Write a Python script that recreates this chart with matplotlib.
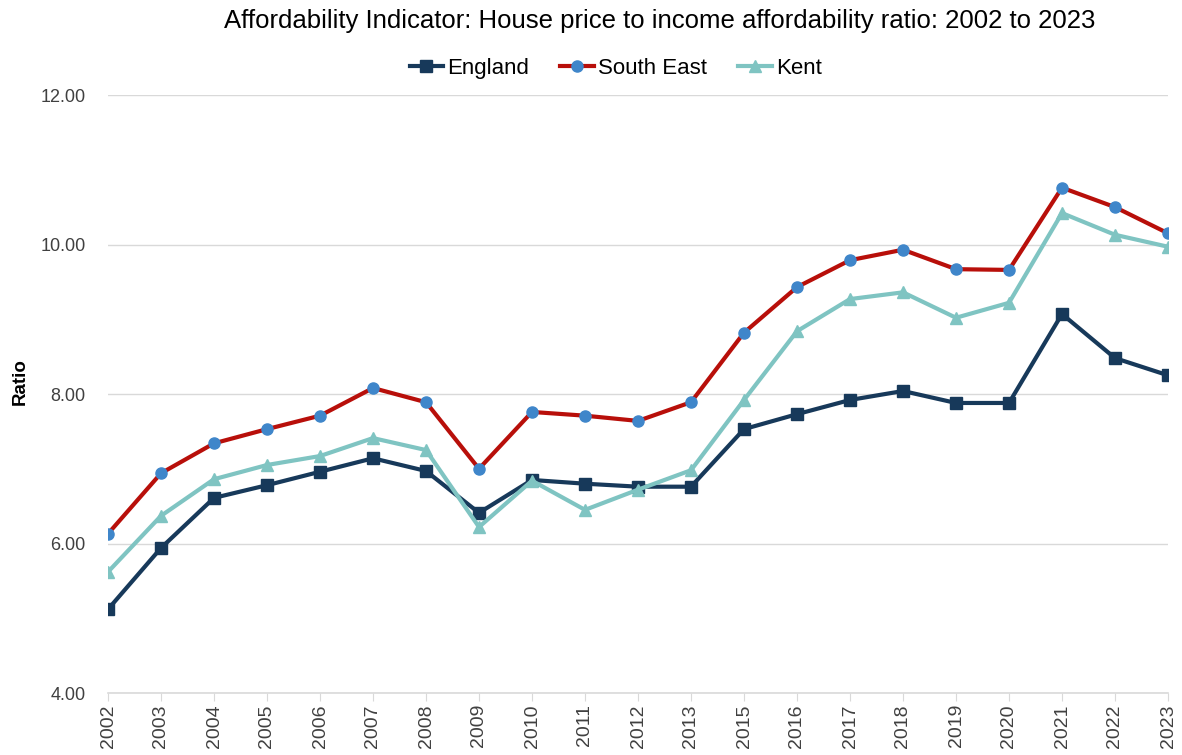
import numpy as np
import matplotlib.pyplot as plt

plt.rcParams['font.family'] = ['Liberation Sans', 'DejaVu Sans']

years = ["2002", "2003", "2004", "2005", "2006", "2007", "2008", "2009", "2010", "2011",
         "2012", "2013", "2015", "2016", "2017", "2018", "2019", "2020", "2021", "2022", "2023"]
england = [5.12, 5.94, 6.61, 6.78, 6.96, 7.14, 6.97, 6.41, 6.85, 6.80,
           6.76, 6.76, 7.53, 7.73, 7.92, 8.04, 7.88, 7.88, 9.07, 8.48, 8.25]
south_east = [6.13, 6.94, 7.34, 7.53, 7.71, 8.08, 7.89, 7.00, 7.76, 7.71,
              7.64, 7.89, 8.82, 9.43, 9.79, 9.93, 9.67, 9.66, 10.76, 10.50, 10.15]
kent = [5.62, 6.37, 6.86, 7.05, 7.17, 7.41, 7.25, 6.22, 6.84, 6.45,
        6.72, 6.98, 7.92, 8.84, 9.27, 9.36, 9.02, 9.22, 10.42, 10.13, 9.97]

fig = plt.figure(figsize=(11.82, 7.55), dpi=100)
ax = fig.add_axes([108/1182, 1-693/755, (1168-108)/1182, (693-95)/755])

x = np.arange(len(years))
ax.plot(x, england, color="#17395A", lw=3, marker="s", ms=8, label="England", zorder=3)
ax.plot(x, south_east, color="#B80F0A", lw=3, marker="o", ms=8,
        mfc="#3F86CA", mec="#3F86CA", label="South East", zorder=3)
ax.plot(x, kent, color="#7FC4C2", lw=3, marker="^", ms=9, label="Kent", zorder=3)

ax.set_xlim(0, len(years)-1)
ax.set_ylim(4, 12)
ax.set_yticks([4, 6, 8, 10, 12])
ax.set_yticklabels(["%.2f" % v for v in [4, 6, 8, 10, 12]])
ax.set_xticks(x)
ax.set_xticklabels(years, rotation=90)
ax.grid(axis="y", color="#D9D9D9", lw=1)
ax.set_axisbelow(True)
for s in ["top", "right", "left"]:
    ax.spines[s].set_visible(False)
ax.spines["bottom"].set_color("#D9D9D9")
ax.spines["bottom"].set_linewidth(1.2)
ax.tick_params(axis="y", length=0, labelsize=13, labelcolor="#404040", pad=16)
ax.tick_params(axis="x", length=6, color="#D9D9D9", labelsize=14, labelcolor="#404040", pad=2)
ax.set_ylabel("Ratio", fontsize=13.5, fontweight="bold")
ax.yaxis.set_label_coords(-0.075, 0.52)

fig.text(0.558, 0.972, "Affordability Indicator: House price to income affordability ratio: 2002 to 2023",
         ha="center", va="center", fontsize=18.5)
fig.legend(loc="center", bbox_to_anchor=(0.521, 0.909), ncol=3, frameon=False,
           fontsize=16, handlelength=1.5, handletextpad=0.2, columnspacing=1.4)

fig.savefig("out.png", dpi=100)
